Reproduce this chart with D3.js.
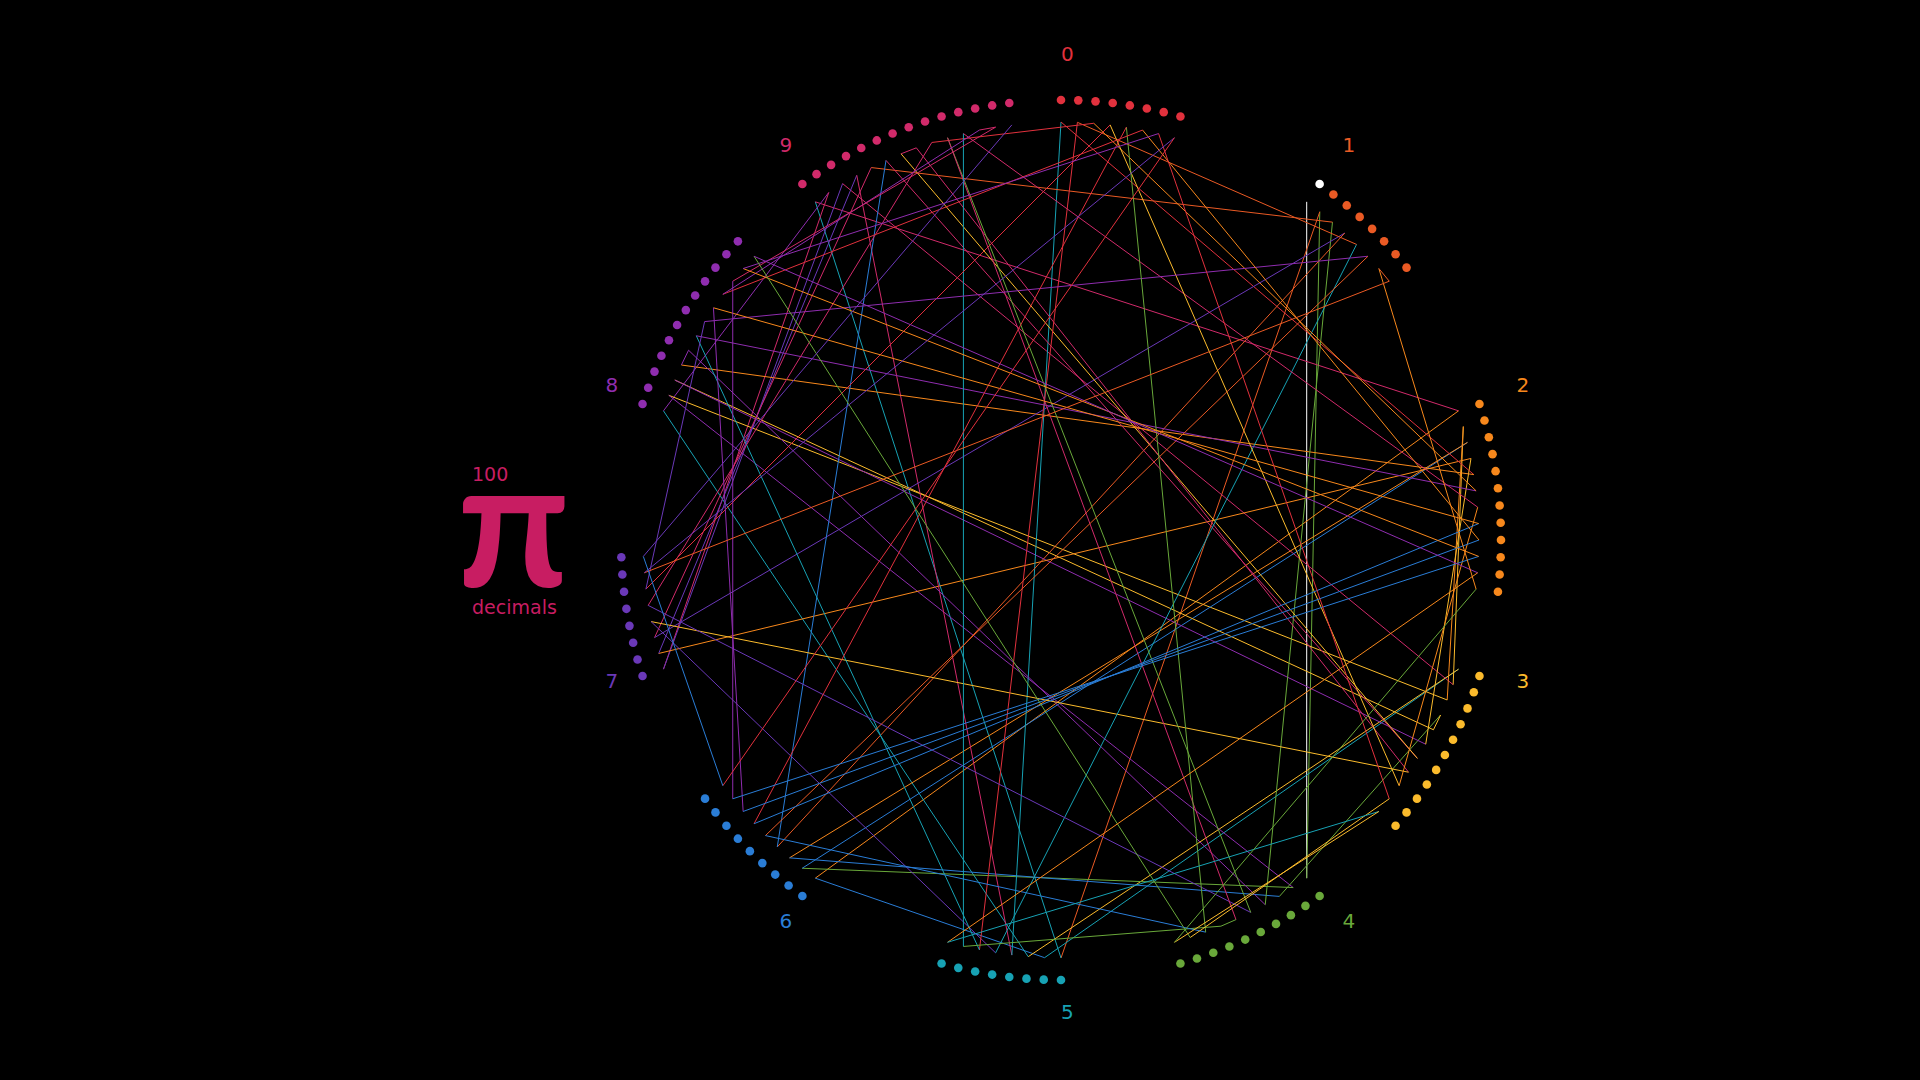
<!DOCTYPE html>
<meta charset="utf-8">

<head>
  <title>100 decimals of pi</title>
</head>

<style>
  body { margin: 0; background: #000; }
  svg { display: block; background: #000; font-family: "DejaVu Sans", sans-serif; }
</style>

<body>
  <svg width="1920" height="1080">
    <g class="scene"></g>
  </svg>

  <script src="https://cdn.jsdelivr.net/npm/d3@7"></script>
  <script>
    // first 100 decimals of pi, in order
    var decimals = '1415926535897932384626433832795028841971693993751058209749445923078164062862089986280348253421170679'
      .split('').map(Number);
    var digits = [0, 1, 2, 3, 4, 5, 6, 7, 8, 9];
    var colors = ['#e1313d', '#ea5a24', '#f7881c', '#fbbb2c', '#69a83a',
                  '#17a2b4', '#2a7dd6', '#6a38b8', '#8f2daf', '#d12a6a'];
    var startColor = '#ffffff';
    var titleLines = ['100', 'decimals'];
    var piColor = '#c81d62';

    var cx = 1061, cy = 540;
    var dotRadius = 440, lineRadius = 418, labelRadius = 479;

    // sector start per digit, and angular step per occurrence
    var sector = d3.scaleBand().domain(digits).range([0, 2 * Math.PI]);
    var step = d3.scaleLinear().domain([0, 16]).range([0, sector.bandwidth()]);

    var seen = digits.map(() => 0);
    var points = decimals.map(function (d, i) {
      var a = sector(d) + step(seen[d]++);
      return {
        digit: d,
        index: i,
        dot: d3.pointRadial(a, dotRadius),
        end: d3.pointRadial(a, lineRadius)
      };
    });
    var links = d3.pairs(points);

    var svg = d3.select('svg');
    var scene = svg.select('.scene')
      .attr('transform', 'translate(' + cx + ',' + cy + ')');

    function colorOf(p) {
      return p.index === 0 ? startColor : colors[p.digit];
    }

    // each link takes the colour of the digit it leaves from
    scene.append('g')
      .selectAll('line')
      .data(links)
      .enter()
      .append('line')
      .attr('x1', d => d[0].end[0])
      .attr('y1', d => d[0].end[1])
      .attr('x2', d => d[1].end[0])
      .attr('y2', d => d[1].end[1])
      .attr('stroke', d => colorOf(d[0]))
      .attr('stroke-width', 1)
      .attr('fill', 'none');

    scene.append('g')
      .selectAll('circle')
      .data(points)
      .enter()
      .append('circle')
      .attr('cx', d => d.dot[0])
      .attr('cy', d => d.dot[1])
      .attr('r', 4.3)
      .attr('fill', colorOf);

    scene.append('g')
      .selectAll('text')
      .data(digits)
      .enter()
      .append('text')
      .attr('x', d => d3.pointRadial(sector(d), labelRadius)[0])
      .attr('y', d => d3.pointRadial(sector(d), labelRadius)[1])
      .attr('font-size', 20)
      .attr('fill', d => colors[d])
      .text(d => d);

    // pi badge on the left
    var badge = svg.append('g');
    badge.append('text')
      .attr('x', 472).attr('y', 481)
      .attr('font-size', 19)
      .attr('fill', piColor)
      .text(titleLines[0]);
    badge.append('text')
      .attr('x', 457).attr('y', 587)
      .style('font-family', 'Lato, sans-serif')
      .style('font-weight', 'bold')
      .attr('font-size', 178)
      .attr('fill', piColor)
      .text('\u03c0');
    badge.append('text')
      .attr('x', 472).attr('y', 614)
      .attr('font-size', 19)
      .attr('fill', piColor)
      .text(titleLines[1]);
  </script>
</body>

</html>
